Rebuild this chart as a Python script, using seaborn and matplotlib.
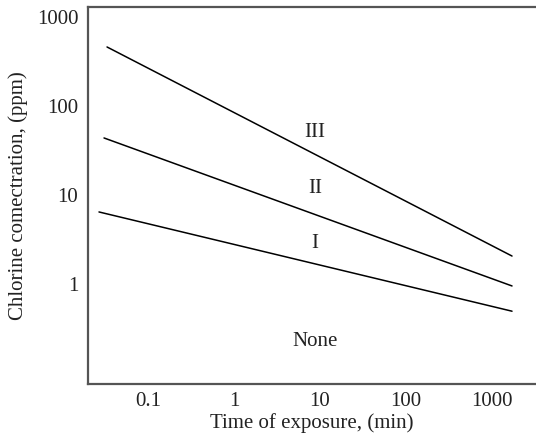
import matplotlib
matplotlib.use("Agg")
import matplotlib.pyplot as plt
import seaborn as sns
import pandas as pd
import numpy as np
from matplotlib.ticker import FixedLocator, FixedFormatter, NullLocator

# Data
categories = ["III", "II", "I"]
time_min = [0.0336, 1700.0]          # start / end of each line (min)
conc_III = [462.0, 2.08]
conc_II = [44.0, 0.96]
conc_I = [6.5, 0.50]
start_I = 0.0271
start_II = 0.031
label_x = 8.75
label_y = {"III": 51.0, "II": 11.8, "I": 2.9}
none_pos = (8.75, 0.226)
xticks = [0.1, 1, 10, 100, 1000]
xtick_labels = ["0.1", "1", "10", "100", "1000"]
yticks = [1, 10, 100, 1000]
ytick_labels = ["1", "10", "100", "1000"]

df = pd.DataFrame({
    "time": [time_min[0], time_min[1], start_II, time_min[1], start_I, time_min[1]],
    "conc": conc_III + conc_II + conc_I,
    "zone": ["III", "III", "II", "II", "I", "I"],
})

sns.set_theme(style="white")
plt.rcParams["font.family"] = ["Liberation Serif", "DejaVu Serif"]

FS = 15

fig = plt.figure(figsize=(5.36, 4.43), dpi=100)
ax = fig.add_axes([88 / 536, 1 - 384 / 443, 1 - 88 / 536, (384 - 6.5) / 443])

sns.lineplot(data=df, x="time", y="conc", hue="zone",
             palette={"III": "black", "II": "black", "I": "black"},
             linewidth=1.1, legend=False, ax=ax, estimator=None, sort=False)

ax.set_xscale("log")
ax.set_yscale("log")
ax.set_xlim(0.0202, 3228)
ax.set_ylim(0.0762, 1315)

ax.xaxis.set_major_locator(FixedLocator(xticks))
ax.xaxis.set_major_formatter(FixedFormatter(xtick_labels))
ax.yaxis.set_major_locator(FixedLocator(yticks))
ax.yaxis.set_major_formatter(FixedFormatter(ytick_labels))
ax.xaxis.set_minor_locator(NullLocator())
ax.yaxis.set_minor_locator(NullLocator())
ax.tick_params(axis="both", length=0, labelsize=FS, colors="#222222")
ax.tick_params(axis="x", pad=6)
ax.tick_params(axis="y", pad=7)

for s in ["left", "bottom", "top"]:
    ax.spines[s].set_color("#555555")
    ax.spines[s].set_linewidth(1.6)
ax.spines["right"].set_visible(False)

for z in categories:
    ax.text(label_x, label_y[z], z, ha="center", va="center", fontsize=FS, color="#222222")
ax.text(none_pos[0], none_pos[1], "None", ha="center", va="center", fontsize=FS, color="#222222")

ax.set_xlabel("Time of exposure, (min)", fontsize=FS, color="#222222", labelpad=1)
ax.set_ylabel("Chlorine comectration, (ppm)", fontsize=FS, color="#222222", labelpad=6)

fig.savefig("out.png", dpi=100)
